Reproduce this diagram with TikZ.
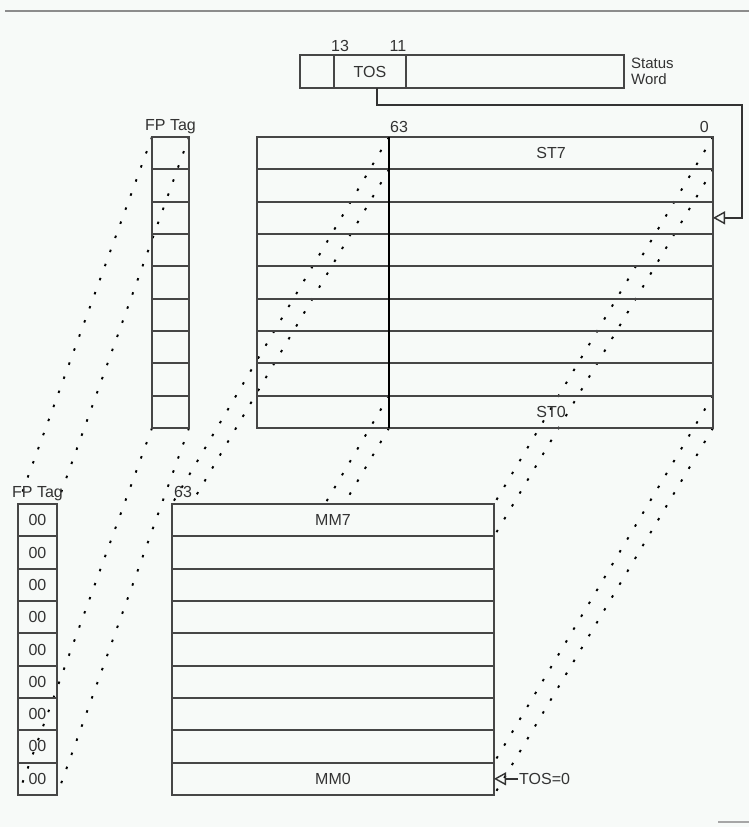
\documentclass[tikz,border=0pt]{standalone}
\usepackage{fontspec}
\setmainfont{Liberation Sans}
\usetikzlibrary{arrows.meta,positioning,backgrounds}
\definecolor{paper}{RGB}{247,250,248}
\definecolor{rulecol}{RGB}{70,70,70}
\newcommand{\rowh}{32.33}

\begin{document}
\begin{tikzpicture}[x=1pt, y=-1pt,
    cell/.style={draw=rulecol, line width=1.8pt, minimum height=\rowh pt, inner sep=0pt, outer sep=0pt, anchor=north west, font=\fontsize{16}{17}\selectfont, text=black!80},
    lbl/.style={font=\fontsize{16}{17}\selectfont, text=black!80, inner sep=1pt},
    map/.style={line width=1.9pt, dash pattern=on 2.5pt off 12.5pt},
    ptr/.style={draw=black!80, line width=1.4pt, -{Triangle[open, length=12pt, width=13pt]}},
]
\useasboundingbox (0,0) rectangle (749,827);
\draw[black!45, line width=2.5pt] (5,11) -- (749,11);
\draw[black!35, line width=2pt] (718,822) -- (749,822);

\node[cell, minimum width=34pt, minimum height=33pt] (swlo) at (300,55) {};
\node[cell, minimum width=72pt, minimum height=33pt, right=0pt of swlo] (swtos) {TOS};
\node[cell, minimum width=218pt, minimum height=33pt, right=0pt of swtos] (swhi) {};
\node[lbl, above=2pt of swtos.north west, xshift=6pt] (b13) {13};
\node[lbl, above=2pt of swtos.north east, xshift=-8pt] (b11) {11};
\node[lbl, right=6pt of swhi, align=left, font=\fontsize{15}{16}\selectfont] (swname) {Status\\Word};

\foreach \i in {0,...,8} {
  \node[cell, minimum width=37pt] (ftag\i) at (152,137+\i*\rowh) {};
  \node[cell, minimum width=132pt] (stx\i) at (257,137+\i*\rowh) {};
  \node[cell, minimum width=324pt, right=0pt of stx\i] (stm\i) {};
  \node[cell, minimum width=39pt] (mtag\i) at (18,504+\i*\rowh) {00};
  \node[cell, minimum width=322pt, fill=paper] (mmr\i) at (172,504+\i*\rowh) {};
}
\draw[black, line width=1.8pt] (stm0.north west) -- (stm8.south west);
\node[lbl] (lst7) at (stm0.center) {ST7};
\node[lbl] (lst0) at (stm8.center) {ST0};
\node[lbl] (lmm7) at (mmr0.center) {MM7};
\node[lbl] (lmm0) at (mmr8.center) {MM0};

\node[lbl, above=2pt of ftag0] (ftagtop) {FP Tag};
\node[lbl, above=2pt of mtag0] (ftagbot) {FP Tag};
\node[lbl, above right=3pt and 0pt of stm0.north west] (st63) {63};
\node[lbl, above left=3pt and 3pt of stm0.north east] (st0bit) {0};
\node[lbl, above right=5pt and 1pt of mmr0.north west] (mm63) {63};

\coordinate (tosbend) at (742,105);
\draw[ptr] ([xshift=7pt]swtos.south) |- (tosbend) |- (stm2.east);
\node[lbl, right=24pt of mmr8] (tos0) {TOS=0};
\draw[ptr] (tos0) -- (mmr8);

\begin{scope}[on background layer]
\fill[paper] (0,0) rectangle (749,827);
\foreach \p/\q in {ftag0.north west/mtag0.north west, ftag0.north east/mtag0.north east,
    ftag8.south west/mtag8.south west, ftag8.south east/mtag8.south east,
    stm0.north west/mmr0.north west, stm0.south west/mmr0.south west,
    stm0.north east/mmr0.north east, stm0.south east/mmr0.south east,
    stm8.north west/mmr8.north west, stm8.south west/mmr8.south west,
    stm8.north east/mmr8.north east, stm8.south east/mmr8.south east}
  \draw[map] (\p) -- (\q);
\end{scope}
\end{tikzpicture}
\end{document}
